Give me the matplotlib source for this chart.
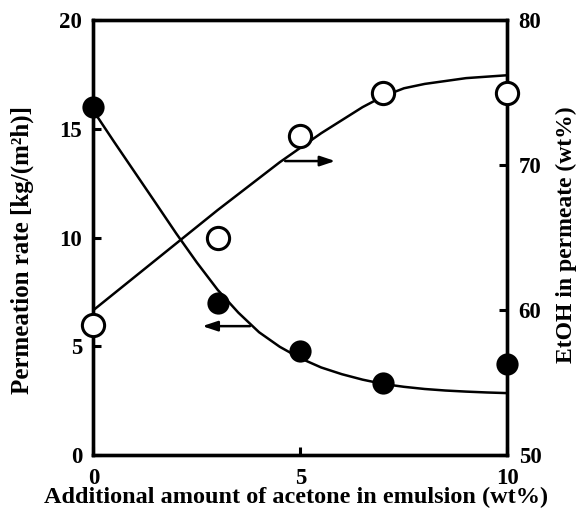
import matplotlib
matplotlib.use("Agg")
import matplotlib.pyplot as plt

plt.rcParams['font.family'] = ['Liberation Serif', 'DejaVu Serif']
plt.rcParams['font.weight'] = 'bold'

# Measured points
acetone = [0, 3, 5, 7, 10]
permeation_rate = [16.0, 7.0, 4.8, 3.3, 4.2]     # kg/(m2 h), left axis
etoh_permeate = [59.0, 65.0, 72.0, 75.0, 75.0]   # wt%, right axis

# Trend curves drawn through the data
curve_x = [0, 0.5, 1, 1.5, 2, 2.5, 3, 3.5, 4, 4.5, 5, 5.5, 6, 6.5, 7,
           7.5, 8, 8.5, 9, 9.5, 10]
rate_curve = [15.83, 14.4, 13.0, 11.6, 10.19, 8.85, 7.6, 6.55, 5.65, 4.98,
              4.45, 4.03, 3.72, 3.47, 3.27, 3.14, 3.04, 2.97, 2.92, 2.88, 2.85]
etoh_curve = [60.0, 61.15, 62.3, 63.45, 64.6, 65.75, 66.9, 68.0, 69.1, 70.2,
              71.2, 72.2, 73.1, 74.0, 74.75, 75.3, 75.6, 75.8, 76.0, 76.1, 76.2]

x_ticks = [0, 5, 10]
left_ticks = [0, 5, 10, 15, 20]
right_ticks = [50, 60, 70, 80]

fig = plt.figure(figsize=(5.84, 5.16), dpi=100)
ax = fig.add_axes([0.160, 0.118, 0.709, 0.843])
ax2 = ax.twinx()

lw_spine = 2.4
for a in (ax, ax2):
    for s in a.spines.values():
        s.set_linewidth(lw_spine)

ax.set_xlim(0, 10)
ax.set_ylim(0, 20)
ax2.set_ylim(50, 80)
ax.set_xticks(x_ticks)
ax.set_yticks(left_ticks)
ax2.set_yticks(right_ticks)

tick_kw = dict(direction='in', length=6, width=2.2, labelsize=16.5)
ax.tick_params(axis='x', pad=9, **tick_kw)
ax.tick_params(axis='y', pad=8, **tick_kw)
ax2.tick_params(axis='y', pad=8, **tick_kw)
for lab in ax.get_xticklabels() + ax.get_yticklabels() + ax2.get_yticklabels():
    lab.set_fontweight('bold')

# Curves
ax.plot(curve_x, rate_curve, color='black', lw=1.8, zorder=2)
ax2.plot(curve_x, etoh_curve, color='black', lw=1.8, zorder=2)

# Markers
ax.plot(acetone, permeation_rate, 'o', color='black', markersize=16,
        markeredgewidth=0, clip_on=False, zorder=5)
ax2.plot(acetone, etoh_permeate, 'o', markerfacecolor='white',
         markeredgecolor='black', markersize=16, markeredgewidth=2.2,
         clip_on=False, zorder=5)

# Arrows pointing to the relevant axis
arrow_kw = dict(arrowstyle='-|>,head_length=0.9,head_width=0.3', color='black',
                lw=1.8, shrinkA=0, shrinkB=0)
ax.annotate('', xy=(5.84, 13.52), xytext=(4.63, 13.52), arrowprops=arrow_kw)
ax.annotate('', xy=(2.63, 5.93), xytext=(3.78, 5.93), arrowprops=arrow_kw)

ax.set_xlabel('Additional amount of acetone in emulsion (wt%)', fontsize=17.5,
              fontweight='bold')
ax.xaxis.set_label_coords(0.49, -0.098, transform=ax.transAxes)
ax.xaxis.label.set_va('center')
ax.set_ylabel('Permeation rate [kg/(m²h)]', fontsize=18, fontweight='bold')
ax.yaxis.set_label_coords(-0.171, 0.471, transform=ax.transAxes)
ax.yaxis.label.set_va('center')
ax2.set_ylabel('EtOH in permeate (wt%)', fontsize=17, fontweight='bold')
ax2.yaxis.set_label_coords(1.142, 0.506, transform=ax2.transAxes)
ax2.yaxis.label.set_va('center')

fig.savefig('out.png', dpi=100)
